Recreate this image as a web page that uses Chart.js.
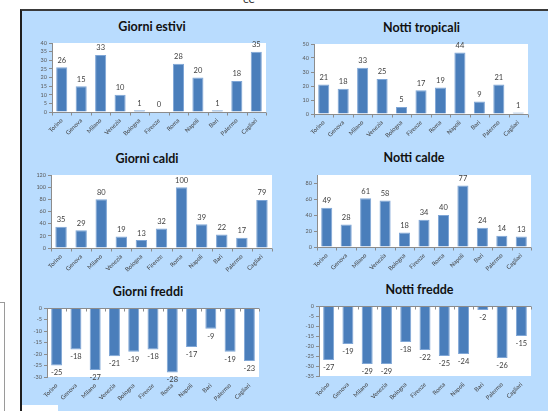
<!DOCTYPE html>
<html>
<head>
<meta charset="utf-8">
<script src="https://cdn.jsdelivr.net/npm/chart.js"></script>
<style>
  html, body { margin:0; padding:0; background:#fff; width:548px; height:411px; overflow:hidden; position:relative; font-family:Lato, "Open Sans", sans-serif; }
  #panel { position:absolute; left:20px; top:9px; width:528px; height:402px; background:#b9dcfe; border-left:2px solid #1e1e1e; border-top:2px solid #3a3a3a; box-sizing:border-box; }
  #sidebox { position:absolute; left:-10px; top:302px; width:13px; height:120px; border:1px solid #9a9a9a; background:#fff; }
  #corner { position:absolute; left:22px; top:405px; width:36px; height:10px; background:#fff; }
  #cut { position:absolute; left:243px; top:-9px; font:12px Lato; color:#333; }
  .title { position:absolute; transform:translate(-50%,-50%); font:bold 12.5px Lato, sans-serif; color:#111; white-space:nowrap; }
  canvas { position:absolute; }
</style>
</head>
<body>
<div id="sidebox"></div>
<div id="panel"></div>
<div id="corner"></div>
<div id="cut">ce</div>

<div class="title" style="left:152px;top:26px">Giorni estivi</div>
<div class="title" style="left:421.5px;top:27px">Notti tropicali</div>
<div class="title" style="left:147px;top:157.5px">Giorni caldi</div>
<div class="title" style="left:414px;top:157px">Notti calde</div>
<div class="title" style="left:148px;top:291px">Giorni freddi</div>
<div class="title" style="left:419.5px;top:289px">Notti fredde</div>

<canvas id="c1"></canvas>
<canvas id="c2"></canvas>
<canvas id="c3"></canvas>
<canvas id="c4"></canvas>
<canvas id="c5"></canvas>
<canvas id="c6"></canvas>

<script>
// Cities on the category axis (same order in every chart)
const cities = ['Torino','Genova','Milano','Venezia','Bologna','Firenze','Roma','Napoli','Bari','Palermo','Cagliari'];

// Counts per city
const giorniEstivi   = [26, 15, 33, 10, 1, 0, 28, 20, 1, 18, 35];
const nottiTropicali = [21, 18, 33, 25, 5, 17, 19, 44, 9, 21, 1];
const giorniCaldi    = [35, 29, 80, 19, 13, 32, 100, 39, 22, 17, 79];
const nottiCalde     = [49, 28, 61, 58, 18, 34, 40, 77, 24, 14, 13];
const giorniFreddi   = [-25, -18, -27, -21, -19, -18, -28, -17, -9, -19, -23];
const nottiFredde    = [-27, -19, -29, -29, -18, -22, -25, -24, -2, -26, -15];

// Value-axis ranges: [min, max, step]
const rangeEstivi   = [0, 40, 5];
const rangeTropical = [0, 50, 5];
const rangeCaldi    = [0, 120, 20];
const rangeCalde    = [0, 90, 10];
const rangeFreddi   = [-30, 0, 5];
const rangeFredde   = [-35, 0, 5];

const FONT = 'Lato';
const AXIS = '#8c8c8c';

// White plotting area
const plotBackground = {
  id: 'plotBackground',
  beforeDraw(chart) {
    const { ctx, chartArea: a } = chart;
    ctx.save();
    ctx.fillStyle = '#ffffff';
    ctx.fillRect(a.left, a.top, a.right - a.left, a.bottom - a.top);
    ctx.restore();
  }
};

// Category axis line drawn at value 0, with tick marks between categories
const zeroAxis = {
  id: 'zeroAxis',
  afterDatasetsDraw(chart) {
    const { ctx, chartArea: a, scales: { y } } = chart;
    const y0 = Math.round(y.getPixelForValue(0)) + 0.5;
    const n = chart.data.labels.length;
    const w = (a.right - a.left) / n;
    ctx.save();
    ctx.strokeStyle = AXIS;
    ctx.lineWidth = 1;
    ctx.beginPath();
    ctx.moveTo(a.left, y0);
    ctx.lineTo(a.right, y0);
    for (let i = 0; i <= n; i++) {
      const xx = Math.round(a.left + i * w) + 0.5;
      ctx.moveTo(xx, y0);
      ctx.lineTo(xx, y0 + 3);
    }
    ctx.stroke();
    ctx.restore();
  }
};

// Value printed just outside the end of each bar
const valueLabels = {
  id: 'valueLabels',
  afterDatasetsDraw(chart) {
    const { ctx } = chart;
    const meta = chart.getDatasetMeta(0);
    const vals = chart.data.datasets[0].data;
    ctx.save();
    ctx.font = '7.5px ' + FONT;
    ctx.fillStyle = '#404040';
    ctx.textAlign = 'center';
    ctx.textBaseline = 'middle';
    meta.data.forEach((bar, i) => {
      const v = vals[i];
      const ty = v < 0 ? bar.y + 7.5 : bar.y - 7;
      ctx.fillText(String(v), bar.x, ty);
    });
    ctx.restore();
  }
};

function barChart(id, values, range, frame) {
  const cv = document.getElementById(id);
  cv.width = frame.w;
  cv.height = frame.h;
  cv.style.left = frame.left + 'px';
  cv.style.top = frame.top + 'px';
  return new Chart(cv, {
    type: 'bar',
    data: {
      labels: cities,
      datasets: [{
        data: values,
        backgroundColor: '#4a7ebb',
        borderColor: '#7fa6d6',
        borderWidth: 1,
        categoryPercentage: 1,
        barPercentage: 0.57
      }]
    },
    options: {
      responsive: false,
      animation: false,
      layout: { padding: { top: frame.padTop, right: frame.padRight, left: 0, bottom: 0 } },
      plugins: { legend: { display: false }, tooltip: { enabled: false } },
      scales: {
        x: {
          grid: { display: false, drawTicks: false },
          border: { display: false },
          ticks: {
            autoSkip: false, minRotation: 45, maxRotation: 45, padding: 5,
            color: '#404040', font: { family: FONT, size: 6 }
          },
          afterFit(s) { s.height = frame.xH; }
        },
        y: {
          min: range[0], max: range[1],
          grid: { drawOnChartArea: false, tickLength: 3, color: AXIS },
          border: { color: AXIS },
          ticks: {
            stepSize: range[2], padding: 2, color: '#595959',
            font: { family: FONT, size: 5.5, lineHeight: 1 }
          },
          afterFit(s) { s.width = frame.yW; }
        }
      }
    },
    plugins: [plotBackground, zeroAxis, valueLabels]
  });
}

barChart('c1', giorniEstivi,   rangeEstivi,   { left: 23,  top: 36,  w: 251, h: 104, yW: 29, xH: 28, padTop: 7, padRight: 8 });
barChart('c2', nottiTropicali, rangeTropical, { left: 284, top: 37,  w: 252, h: 104, yW: 30, xH: 27, padTop: 7, padRight: 8 });
barChart('c3', giorniCaldi,    rangeCaldi,    { left: 22,  top: 168, w: 258, h: 108, yW: 29, xH: 28, padTop: 7, padRight: 8 });
barChart('c4', nottiCalde,     rangeCalde,    { left: 287, top: 168, w: 252, h: 107, yW: 30, xH: 28, padTop: 7, padRight: 8 });
barChart('c5', giorniFreddi,   rangeFreddi,   { left: 22,  top: 301, w: 245, h: 106, yW: 25, xH: 30, padTop: 7, padRight: 8 });
barChart('c6', nottiFredde,    rangeFredde,   { left: 288, top: 299, w: 251, h: 108, yW: 31, xH: 31, padTop: 7, padRight: 8 });
</script>
</body>
</html>
